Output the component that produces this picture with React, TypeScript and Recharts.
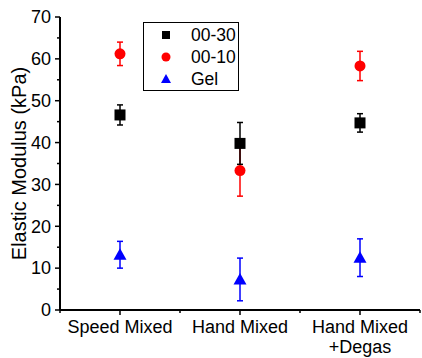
import React from 'react'
import { ComposedChart, Scatter, XAxis, YAxis, ErrorBar } from 'recharts'

const categories = ['Speed Mixed', 'Hand Mixed', 'Hand Mixed\n+Degas']
const seriesNames = ['00-30', '00-10', 'Gel']
const seriesColors = ['#000000', '#ff0000', '#0000ff']

const mod30 = [46.6, 39.8, 44.7]
const err30 = [2.4, 5.0, 2.2]
const mod10 = [61.2, 33.3, 58.3]
const err10 = [2.8, 6.1, 3.5]
const modGel = [13.2, 7.3, 12.5]
const errGel = [3.2, 5.1, 4.5]

const yTicks = [0, 5, 10, 15, 20, 25, 30, 35, 40, 45, 50, 55, 60, 65, 70]
const xTicks = [0.5, 1, 1.5, 2, 2.5, 3, 3.5]

const FONT = '"Liberation Sans", Arial, sans-serif'

const toRows = (vals: number[], errs: number[]) =>
  vals.map((v, i) => ({ x: i + 1, y: v, err: errs[i] }))

const rows30 = toRows(mod30, err30)
const rows10 = toRows(mod10, err10)
const rowsGel = toRows(modGel, errGel)

const Square = (p: any) => <rect x={p.cx - 5.5} y={p.cy - 5.5} width={11} height={11} fill={seriesColors[0]} />
const Dot = (p: any) => <circle cx={p.cx} cy={p.cy} r={5.5} fill={seriesColors[1]} />
const Tri = (p: any) => (
  <polygon points={`${p.cx},${p.cy - 6.5} ${p.cx + 6.5},${p.cy + 5} ${p.cx - 6.5},${p.cy + 5}`} fill={seriesColors[2]} />
)

function XTick({ x, y, payload }: any) {
  const v = payload.value
  const major = Number.isInteger(v)
  const lines = major ? categories[v - 1].split('\n') : []
  return (
    <g>
      <line x1={x} y1={y} x2={x} y2={y + (major ? 5 : 3)} stroke="#000" strokeWidth={1.5} />
      {lines.length > 0 && (
        <text x={x} y={y + 23} textAnchor="middle" fontSize={18} fontFamily={FONT} fill="#000">
          {lines.map((l: string, i: number) => (
            <tspan key={i} x={x} dy={i === 0 ? 0 : 20}>{l}</tspan>
          ))}
        </text>
      )}
    </g>
  )
}

function YTick({ x, y, payload }: any) {
  const v = payload.value
  const major = v % 10 === 0
  return (
    <g>
      <line x1={x - (major ? 5 : 3)} y1={y} x2={x} y2={y} stroke="#000" strokeWidth={1.5} />
      {major && (
        <text x={x - 9} y={y} dy="0.35em" textAnchor="end" fontSize={18} fontFamily={FONT} fill="#000">
          {v}
        </text>
      )}
    </g>
  )
}

function LegendBox() {
  const icons = [
    <rect x={-4} y={-4} width={8} height={8} fill={seriesColors[0]} />,
    <circle r={4.5} fill={seriesColors[1]} />,
    <polygon points="0,-5 5,4 -5,4" fill={seriesColors[2]} />,
  ]
  return (
    <div
      style={{
        position: 'absolute', left: 143, top: 22, width: 94, height: 67,
        border: '1px solid #000', background: '#fff', fontFamily: FONT, fontSize: 17.5,
      }}
    >
      {seriesNames.map((name, i) => (
        <div key={name} style={{ position: 'absolute', left: 0, top: 1 + i * 22, height: 22, display: 'flex', alignItems: 'center' }}>
          <svg width={40} height={22} style={{ display: 'block' }}>
            <g transform="translate(22,11)">{icons[i]}</g>
          </svg>
          <span style={{ marginLeft: 7, lineHeight: '22px' }}>{name}</span>
        </div>
      ))}
    </div>
  )
}

export default function App() {
  return (
    <div style={{ position: 'absolute', left: 0, top: 0, width: 422, height: 358, background: '#fff' }}>
      <ComposedChart width={422} height={358} margin={{ top: 17, right: 2, bottom: 0, left: 0 }}>
        <XAxis
          dataKey="x"
          type="number"
          domain={[0.5, 3.5]}
          ticks={xTicks}
          interval={0}
          height={48}
          tickSize={0}
          tickMargin={0}
          tickLine={false}
          axisLine={{ stroke: '#000', strokeWidth: 2 }}
          tick={<XTick />}
        />
        <XAxis xAxisId="top" orientation="top" type="number" domain={[0, 1]} height={0} tick={false} tickLine={false} axisLine={{ stroke: '#666', strokeWidth: 1.5 }} />
        <YAxis
          type="number"
          domain={[0, 70]}
          ticks={yTicks}
          interval={0}
          width={60}
          tickSize={0}
          tickMargin={0}
          tickLine={false}
          axisLine={{ stroke: '#000', strokeWidth: 2 }}
          tick={<YTick />}
          label={{ value: 'Elastic Modulus (kPa)', angle: -90, position: 'insideLeft', offset: 19, style: { textAnchor: 'middle', fontSize: 20, fontFamily: FONT, fill: '#000' } }}
        />
        <YAxis yAxisId="right" orientation="right" width={0} domain={[0, 1]} tick={false} tickLine={false} axisLine={{ stroke: '#666', strokeWidth: 1.5 }} />
        <Scatter name={seriesNames[2]} data={rowsGel} dataKey="y" shape={<Tri />} isAnimationActive={false}>
          <ErrorBar dataKey="err" direction="y" width={3} stroke={seriesColors[2]} strokeWidth={1.5} />
        </Scatter>
        <Scatter name={seriesNames[1]} data={rows10} dataKey="y" shape={<Dot />} isAnimationActive={false}>
          <ErrorBar dataKey="err" direction="y" width={3} stroke={seriesColors[1]} strokeWidth={1.5} />
        </Scatter>
        <Scatter name={seriesNames[0]} data={rows30} dataKey="y" shape={<Square />} isAnimationActive={false}>
          <ErrorBar dataKey="err" direction="y" width={3} stroke={seriesColors[0]} strokeWidth={1.5} />
        </Scatter>
      </ComposedChart>
      <LegendBox />
    </div>
  )
}
